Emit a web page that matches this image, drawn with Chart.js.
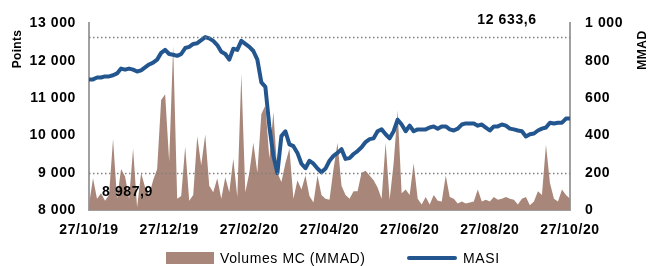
<!DOCTYPE html>
<html>
<head>
<meta charset="utf-8">
<script src="https://cdn.jsdelivr.net/npm/chart.js@4.4.1/dist/chart.umd.min.js"></script>
<style>
  html, body { margin: 0; padding: 0; background: #fff; }
  #wrap { position: relative; width: 648px; height: 266px; }
  canvas { position: absolute; left: 0; top: 0; }
  .lg { position: absolute; font: 14px "Liberation Sans", Arial, sans-serif; letter-spacing: 0.6px; color: #000; line-height: 16px; }
</style>
</head>
<body>
<div id="wrap">
  <canvas id="chart" width="648" height="266"></canvas>
  <div class="lg" style="left:166px;top:252px;width:48px;height:12px;background:#a8877a"></div>
  <div class="lg" style="left:220px;top:250px;">Volumes MC (MMAD)</div>
  <div class="lg" style="left:407px;top:256px;width:50px;height:4px;background:#23568f;border-radius:2px"></div>
  <div class="lg" style="left:463px;top:250px;">MASI</div>
</div>
<script>
// tick labels on the x axis, one every 20 steps
const dateLabels = ['27/10/19', '27/12/19', '27/02/20', '27/04/20', '27/06/20', '27/08/20', '27/10/20'];

// MASI (points)
const masi = [
  11500, 11500, 11550, 11550, 11580, 11580, 11610, 11660, 11790, 11760,
  11790, 11760, 11710, 11740, 11820, 11900, 11950, 12030, 12210, 12290,
  12180, 12160, 12130, 12180, 12340, 12370, 12450, 12470, 12550, 12633.6,
  12600, 12530, 12420, 12240, 12180, 12030, 12320, 12290, 12530, 12450,
  12370, 12260, 12030, 11420, 11300, 10240, 9450, 8987.9, 9980, 10110,
  9760, 9710, 9530, 9240, 9120, 9320, 9240, 9110, 9010, 9110,
  9320, 9450, 9530, 9630, 9370, 9390, 9500, 9580, 9680, 9820,
  9900, 9920, 10110, 10160, 10030, 9920, 10110, 10420, 10290, 10110,
  10260, 10110, 10160, 10160, 10160, 10210, 10240, 10180, 10240, 10240,
  10160, 10130, 10180, 10290, 10320, 10320, 10320, 10260, 10290, 10210,
  10130, 10240, 10240, 10290, 10260, 10180, 10160, 10130, 10110, 9970,
  10030, 10050, 10130, 10180, 10210, 10340, 10320, 10340, 10340, 10450,
  10450
];

// Volumes MC (MMAD)
const volumes = [
  30, 170, 60, 90, 50, 80, 380, 60, 220, 180,
  60, 330, 15, 200, 120, 80, 160, 220, 590, 620,
  260, 880, 60, 75, 340, 50, 80, 395, 240, 405,
  130, 95, 170, 60, 175, 95, 275, 70, 730, 95,
  200, 360, 200, 515, 560, 275, 525, 200, 150, 250,
  330, 60, 160, 110, 185, 75, 40, 185, 80, 60,
  55, 220, 360, 130, 80, 60, 100, 100, 200, 210,
  185, 160, 120, 60, 360, 55, 250, 535, 90, 110,
  80, 250, 60, 30, 70, 30, 80, 50, 45, 185,
  70, 60, 35, 45, 35, 40, 45, 110, 45, 55,
  45, 70, 55, 60, 70, 60, 55, 30, 60, 70,
  25, 45, 100, 80, 350, 145, 60, 45, 110, 80,
  60
];

const masiMax = Math.max(...masi);
const masiMin = Math.min(...masi);

const fmt = v => String(v).replace(/\B(?=(\d{3})+(?!\d))/g, ' ');
const fmtDec = v => fmt(Math.floor(v)) + ',' + Math.round((v % 1) * 10);

const FONT = '"Liberation Sans", Arial, sans-serif';

const extras = {
  id: 'extras',
  beforeDraw(chart) {
    chart.ctx.letterSpacing = '0.6px';
  },
  afterDatasetsDraw(chart) {
    const { ctx, chartArea, scales } = chart;
    ctx.save();
    ctx.strokeStyle = '#7f7f7f';
    ctx.lineWidth = 1.5;
    ctx.setLineDash([1.5, 2.5]);
    [masiMax, masiMin].forEach(v => {
      const y = Math.round(scales.y.getPixelForValue(v)) + 0.5;
      ctx.beginPath();
      ctx.moveTo(chartArea.left, y);
      ctx.lineTo(chartArea.right, y);
      ctx.stroke();
    });
    ctx.restore();
  },
  afterDraw(chart) {
    const { ctx } = chart;
    ctx.save();
    ctx.letterSpacing = '0.6px';
    ctx.fillStyle = '#000';
    ctx.font = 'bold 14px ' + FONT;
    ctx.textBaseline = 'middle';
    ctx.textAlign = 'center';
    ctx.fillText(fmtDec(masiMax), 507, 20);
    ctx.textAlign = 'left';
    ctx.fillText(fmtDec(masiMin), 102, 192);

    ctx.font = 'bold 12px ' + FONT;
    ctx.textAlign = 'center';
    ctx.letterSpacing = '0.3px';
    ctx.translate(18, 49);
    ctx.rotate(-Math.PI / 2);
    ctx.fillText('Points', 0, 0);
    ctx.restore();

    ctx.save();
    ctx.fillStyle = '#000';
    ctx.font = 'bold 12px ' + FONT;
    ctx.textAlign = 'center';
    ctx.textBaseline = 'middle';
    ctx.translate(643, 50);
    ctx.rotate(-Math.PI / 2);
    ctx.fillText('MMAD', 0, 0);
    ctx.restore();
  }
};

const xs = masi.map((_, i) => i);

new Chart(document.getElementById('chart'), {
  type: 'line',
  data: {
    datasets: [
      {
        label: 'MASI',
        data: xs.map(i => ({ x: i, y: masi[i] })),
        yAxisID: 'y',
        borderColor: '#23568f',
        borderWidth: 4,
        borderJoinStyle: 'round',
        borderCapStyle: 'round',
        pointRadius: 0,
        tension: 0,
        order: 1
      },
      {
        label: 'Volumes MC (MMAD)',
        data: xs.map(i => ({ x: i, y: volumes[i] })),
        yAxisID: 'y1',
        borderWidth: 0,
        backgroundColor: '#a8877a',
        fill: 'origin',
        pointRadius: 0,
        tension: 0,
        order: 2
      }
    ]
  },
  options: {
    responsive: false,
    animation: false,
    devicePixelRatio: 1,
    layout: { padding: { top: 20, bottom: 26, left: 0, right: 0 } },
    plugins: {
      legend: { display: false },
      tooltip: { enabled: false }
    },
    scales: {
      x: {
        type: 'linear',
        min: 0,
        max: 120,
        afterBuildTicks: s => { s.ticks = dateLabels.map((_, k) => ({ value: k * 20 })); },
        afterFit: s => { s.height = 30; },
        grid: { display: false, drawTicks: false },
        border: { display: true, color: '#a0a0a0', width: 2 },
        ticks: {
          callback: v => dateLabels[Math.round(v / 20)],
          font: { family: FONT, size: 14, weight: 'bold' },
          color: '#000',
          padding: 12,
          maxRotation: 0,
          autoSkip: false
        }
      },
      y: {
        position: 'left',
        min: 8000,
        max: 13000,
        afterFit: s => { s.width = 89; },
        grid: { display: false, drawTicks: false },
        border: { display: true, color: '#a0a0a0', width: 2 },
        ticks: {
          stepSize: 1000,
          callback: v => fmt(v),
          font: { family: FONT, size: 14, weight: 'bold' },
          color: '#000',
          padding: 13
        }
      },
      y1: {
        position: 'right',
        min: 0,
        max: 1000,
        afterFit: s => { s.width = 78; },
        grid: { display: false, drawTicks: false },
        border: { display: true, color: '#a0a0a0', width: 2 },
        ticks: {
          stepSize: 200,
          callback: v => fmt(v),
          font: { family: FONT, size: 14, weight: 'bold' },
          color: '#000',
          padding: 15
        }
      }
    }
  },
  plugins: [extras]
});
</script>
</body>
</html>
